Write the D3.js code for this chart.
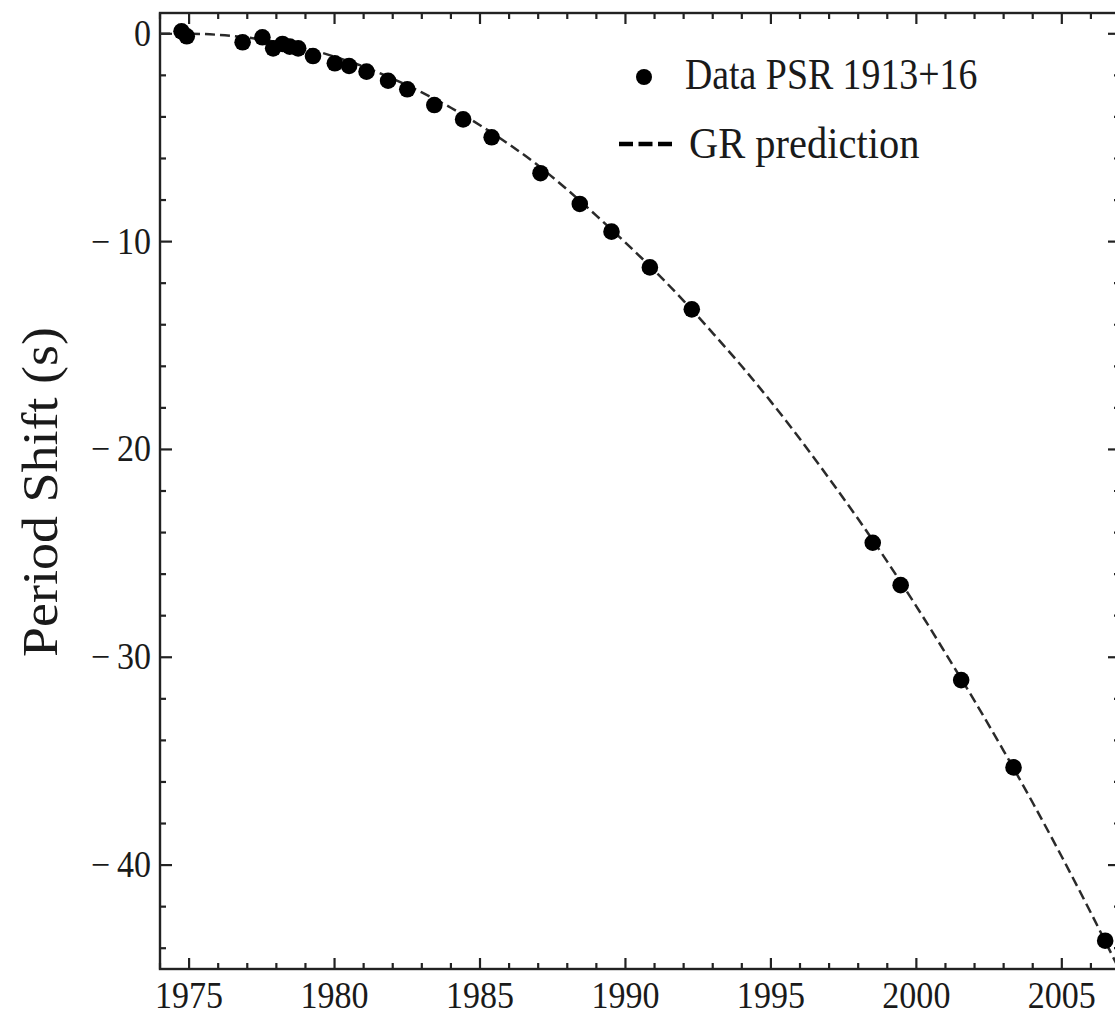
<!DOCTYPE html>
<html>
<head>
<meta charset="utf-8">
<script src="https://cdn.jsdelivr.net/npm/d3@7"></script>
<style>
  html, body { margin: 0; padding: 0; background: #fff; }
  svg { display: block; }
  text { font-family: "Liberation Serif", "Times New Roman", serif; fill: #1a1a1a; }
</style>
</head>
<body>
<script>
// ---- data ----
const dataYears = [1974.74, 1974.92, 1976.84, 1977.52, 1977.89, 1978.21, 1978.46, 1978.75, 1979.26,
  1980.01, 1980.50, 1981.10, 1981.84, 1982.50, 1983.43, 1984.42, 1985.40, 1987.08, 1988.43,
  1989.52, 1990.84, 1992.28, 1998.50, 1999.46, 2001.54, 2003.34, 2006.49];
const dataShift = [0.12, -0.12, -0.41, -0.17, -0.70, -0.49, -0.62, -0.70, -1.07,
  -1.42, -1.55, -1.82, -2.26, -2.67, -3.43, -4.12, -4.98, -6.71, -8.19,
  -9.52, -11.24, -13.26, -24.49, -26.53, -31.10, -35.30, -43.64];

const grYears = [1974, 1975, 1976, 1977, 1978, 1979, 1980, 1981, 1982, 1983, 1984, 1985, 1986, 1987,
  1988, 1989, 1990, 1991, 1992, 1993, 1994, 1995, 1996, 1997, 1998, 1999, 2000, 2001, 2002,
  2003, 2004, 2005, 2006, 2007];
const grShift = [0.0, 0.0, -0.05, -0.18, -0.40, -0.70, -1.10, -1.58, -2.16, -2.82, -3.56, -4.40, -5.32, -6.34,
  -7.50, -8.75, -10.05, -11.40, -12.85, -14.40, -16.00, -17.70, -19.50, -21.40, -23.35, -25.40, -27.55, -29.80, -32.10,
  -34.50, -37.00, -39.60, -42.30, -45.10];

const xMajorTicks = [1975, 1980, 1985, 1990, 1995, 2000, 2005];
const yMajorTicks = [0, -10, -20, -30, -40];
const legendLabels = ["Data PSR 1913+16", "GR prediction"];
const yTitle = "Period Shift (s)";

// ---- layout ----
const W = 1115, H = 1015;
const mLeft = 160, mTop = 13, mBottom = 969, mRight = 1120;
const SX = 0.92; // horizontal squish of the original image

const svg = d3.select("body").append("svg").attr("width", W).attr("height", H);

const x = d3.scaleLinear().domain([1974, 2007]).range([mLeft, mRight]);
const y = d3.scaleLinear().domain([-45, 1]).range([mBottom, mTop]);

const axisColor = "#222";
const xMinor = d3.range(1974, 2008, 1).filter(v => !xMajorTicks.includes(v));
const yMinor = d3.range(-44, 1, 2).filter(v => !yMajorTicks.includes(v));

// frame
svg.append("rect").attr("x", mLeft).attr("y", mTop).attr("width", mRight - mLeft).attr("height", mBottom - mTop)
  .attr("fill", "none").attr("stroke", axisColor).attr("stroke-width", 2.4);

const ticks = svg.append("g").attr("stroke", axisColor).attr("stroke-width", 2.2);
[[xMajorTicks, 11], [xMinor, 6]].forEach(([vals, len]) => {
  ticks.selectAll(null).data(vals).enter().append("line")
    .attr("x1", d => x(d)).attr("x2", d => x(d)).attr("y1", mBottom).attr("y2", mBottom - len);
  ticks.selectAll(null).data(vals).enter().append("line")
    .attr("x1", d => x(d)).attr("x2", d => x(d)).attr("y1", mTop).attr("y2", mTop + len);
});
[[yMajorTicks, 12], [yMinor, 6]].forEach(([vals, len]) => {
  ticks.selectAll(null).data(vals).enter().append("line")
    .attr("y1", d => y(d)).attr("y2", d => y(d)).attr("x1", mLeft).attr("x2", mLeft + len);
  ticks.selectAll(null).data(vals).enter().append("line")
    .attr("y1", d => y(d)).attr("y2", d => y(d)).attr("x1", mRight).attr("x2", mRight - len);
});

// tick labels
svg.append("g").selectAll("text").data(xMajorTicks).enter().append("text")
  .attr("transform", d => `translate(${x(d)},1008) scale(${SX},1)`)
  .attr("text-anchor", "middle").attr("font-size", 37).text(d => d);

svg.append("g").selectAll("text").data(yMajorTicks).enter().append("text")
  .attr("transform", d => `translate(151,${y(d) + 12}) scale(${SX},1)`)
  .attr("text-anchor", "end").attr("font-size", 37)
  .text(d => d === 0 ? "0" : "\u2212\u2009" + Math.abs(d));

// y title
svg.append("text")
  .attr("transform", `translate(57,492) scale(${SX},1) rotate(-90)`)
  .attr("text-anchor", "middle").attr("font-size", 54).text(yTitle);

// clip plot
svg.append("clipPath").attr("id", "plotclip").append("rect")
  .attr("x", mLeft).attr("y", mTop).attr("width", mRight - mLeft).attr("height", mBottom - mTop);

const plot = svg.append("g").attr("clip-path", "url(#plotclip)");

const line = d3.line().x(d => x(d[0])).y(d => y(d[1])).curve(d3.curveMonotoneX);
plot.append("path").datum(d3.zip(grYears, grShift))
  .attr("d", line).attr("fill", "none").attr("stroke", "#2a2a2a").attr("stroke-width", 2.5)
  .attr("stroke-dasharray", "10,5");

svg.append("g").selectAll("circle").data(d3.zip(dataYears, dataShift)).enter().append("circle")
  .attr("cx", d => x(d[0])).attr("cy", d => y(d[1])).attr("r", 8.3).attr("fill", "#000");

// legend
const lg = svg.append("g");
lg.append("circle").attr("cx", 644).attr("cy", 77).attr("r", 8).attr("fill", "#000");
lg.append("text").attr("transform", `translate(685,89) scale(0.86,1)`).attr("font-size", 44).text(legendLabels[0]);
lg.append("line").attr("x1", 619).attr("x2", 672).attr("y1", 144).attr("y2", 144)
  .attr("stroke", "#000").attr("stroke-width", 4.5).attr("stroke-dasharray", "14,5.5");
lg.append("text").attr("transform", `translate(689,158) scale(0.92,1)`).attr("font-size", 44).text(legendLabels[1]);
</script>
</body>
</html>
